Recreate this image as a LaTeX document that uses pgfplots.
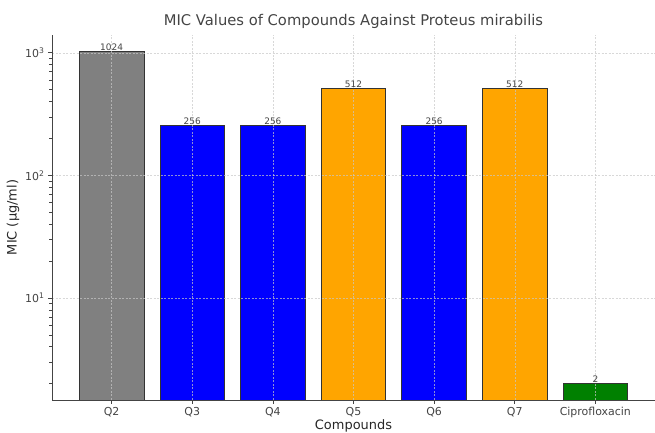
\documentclass[border=0pt]{standalone}
\usepackage{pgfplots}
\pgfplotsset{compat=1.18}
\usepackage{fontspec}
\setmainfont{DejaVu Sans}
\definecolor{axgray}{HTML}{444444}
\definecolor{gridc}{HTML}{C8C8C8}
\definecolor{edgec}{HTML}{333333}
\definecolor{cgray}{HTML}{808080}
\definecolor{cblue}{HTML}{0000FF}
\definecolor{corange}{HTML}{FFA500}
\definecolor{cgreen}{HTML}{008000}
\begin{document}
\begin{tikzpicture}
\useasboundingbox (0,0) rectangle (655bp,433bp);
\begin{axis}[
  at={(52bp,33bp)}, anchor=south west,
  scale only axis, width=603bp, height=365bp,
  ymode=log, log origin=infty,
  xmin=-0.74, xmax=6.74, ymin=1.47, ymax=1397,
  axis x line*=bottom, axis y line*=left,
  axis line style={axgray, line width=0.8pt},
  every tick/.style={axgray, line width=0.6pt},
  tick align=outside,
  major tick length=4bp, minor tick length=2.5bp,
  xtick={0,...,6},
  xticklabels={Q2,Q3,Q4,Q5,Q6,Q7,Ciprofloxacin},
  ytick={10,100,1000},
  minor ytick={2,3,4,5,6,7,8,9,20,30,40,50,60,70,80,90,200,300,400,500,600,700,800,900},
  yticklabels={10\textsuperscript{1},10\textsuperscript{2},10\textsuperscript{3}},
  tick label style={font=\fontsize{11}{13}\selectfont, text=axgray},
  grid=major,
  major grid style={gridc, opacity=0.7, dash pattern=on 2bp off 1.5bp, line width=0.45pt},
  axis on top,
  title={MIC Values of Compounds Against Proteus mirabilis},
  title style={font=\fontsize{14.8}{17}\selectfont, text=axgray, yshift=-3bp},
  xlabel={Compounds}, ylabel={MIC (μg/ml)},
  label style={font=\fontsize{13}{15}\selectfont, text=black!85},
  xlabel style={yshift=5bp},
  ylabel style={yshift=-1bp},
  ybar, bar width=0.8, bar shift=0pt,
  nodes near coords,
  every node near coord/.append style={font=\fontsize{9}{10}\selectfont, text=axgray, yshift=-3bp},
  point meta=explicit symbolic,
]
\addplot[fill=cgray, draw=edgec, line width=0.8pt] coordinates {(0,1024)[1024]};
\addplot[fill=cblue, draw=edgec, line width=0.8pt] coordinates {(1,256)[256] (2,256)[256] (4,256)[256]};
\addplot[fill=corange, draw=edgec, line width=0.8pt] coordinates {(3,512)[512] (5,512)[512]};
\addplot[fill=cgreen, draw=edgec, line width=0.8pt] coordinates {(6,2)[2]};
\end{axis}
\end{tikzpicture}
\end{document}
